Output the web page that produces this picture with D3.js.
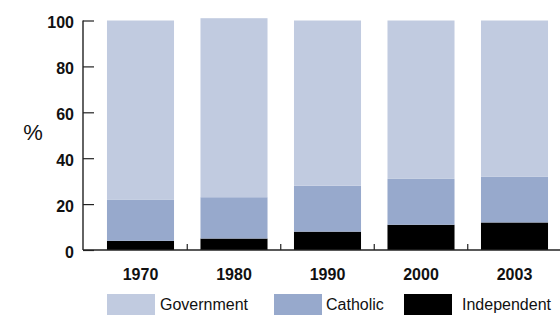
<!DOCTYPE html>
<html>
<head>
<meta charset="utf-8">
<script src="https://cdn.jsdelivr.net/npm/d3@7"></script>
<style>
  body { margin: 0; background: #fff; }
  text { font-family: "Liberation Sans", Arial, sans-serif; fill: #111; }
</style>
</head>
<body>
<div class="chart-container"></div>
<script>
// data
const years = ["1970", "1980", "1990", "2000", "2003"];
const independent = [4, 5, 8, 11, 12];
const catholic = [18, 18, 20, 20, 20];
const government = [78, 78, 72, 69, 68];
const keys = ["Independent", "Catholic", "Government"];
const yTicks = [0, 20, 40, 60, 80, 100];

const colors = { Government: "#c1cbe0", Catholic: "#97a9cc", Independent: "#000000" };

const W = 560, H = 315;
const rows = years.map((y, i) => ({
  name: y, Independent: independent[i], Catholic: catholic[i], Government: government[i]
}));

const svg = d3.select(".chart-container").append("svg")
  .attr("width", W).attr("height", H);

const x = d3.scaleBand()
  .domain(years)
  .range([93.75, 561.25])
  .paddingInner(0.283)
  .paddingOuter(0.1415);

const y = d3.scaleLinear().domain([0, 100]).range([250, 20.5]);

const series = d3.stack().keys(keys)(rows);

/* stacked bars */
svg.append("g").selectAll("g")
  .data(series)
  .enter().append("g")
  .attr("fill", d => colors[d.key])
  .selectAll("rect")
  .data(d => d)
  .enter().append("rect")
  .attr("x", d => x(d.data.name))
  .attr("width", x.bandwidth())
  .attr("y", d => y(d[1]))
  .attr("height", d => y(d[0]) - y(d[1]));

/* y axis */
const yAxis = svg.append("g")
  .attr("transform", "translate(83,0)")
  .call(d3.axisRight(y).tickValues(yTicks).tickSize(11).tickFormat(d3.format("d")));
yAxis.select(".domain").attr("stroke", "#222").attr("stroke-width", 1.4).attr("d", "M0," + y(100) + "V" + y(0));
yAxis.selectAll(".tick line").attr("stroke", "#222").attr("stroke-width", 1.2);
yAxis.selectAll(".tick text")
  .attr("x", -9).attr("dy", "0.45em")
  .attr("text-anchor", "end")
  .style("font-size", "16px").style("font-weight", "bold");

/* x axis: baseline with ticks at band boundaries */
const xAxis = svg.append("g");
xAxis.append("line")
  .attr("x1", 83).attr("x2", 560)
  .attr("y1", y(0)).attr("y2", y(0))
  .attr("stroke", "#222").attr("stroke-width", 1.4);
const gap = (x.step() - x.bandwidth()) / 2;
xAxis.selectAll(".sep")
  .data(years.slice(1))
  .enter().append("line")
  .attr("class", "sep")
  .attr("x1", d => x(d) - gap).attr("x2", d => x(d) - gap)
  .attr("y1", y(0)).attr("y2", y(0) - 6)
  .attr("stroke", "#222").attr("stroke-width", 1.2);
xAxis.selectAll(".yr")
  .data(years)
  .enter().append("text")
  .attr("class", "yr")
  .attr("x", d => x(d) + x.bandwidth() / 2)
  .attr("y", 279.5)
  .attr("text-anchor", "middle")
  .style("font-size", "16px").style("font-weight", "bold")
  .text(d => d);

/* unit label */
svg.append("text")
  .attr("x", 33).attr("y", 140)
  .attr("text-anchor", "middle")
  .style("font-size", "22px")
  .text("%");

/* legend */
const legendItems = [
  { key: "Government", sx: 107, tx: 160 },
  { key: "Catholic", sx: 274, tx: 326 },
  { key: "Independent", sx: 404, tx: 462 }
];
const legend = svg.append("g").selectAll("g")
  .data(legendItems)
  .enter().append("g");
legend.append("rect")
  .attr("x", d => d.sx).attr("y", 294)
  .attr("width", 48).attr("height", 22)
  .attr("fill", d => colors[d.key]);
legend.append("text")
  .attr("x", d => d.tx).attr("y", 310)
  .style("font-size", "16px")
  .text(d => d.key);
</script>
</body>
</html>
